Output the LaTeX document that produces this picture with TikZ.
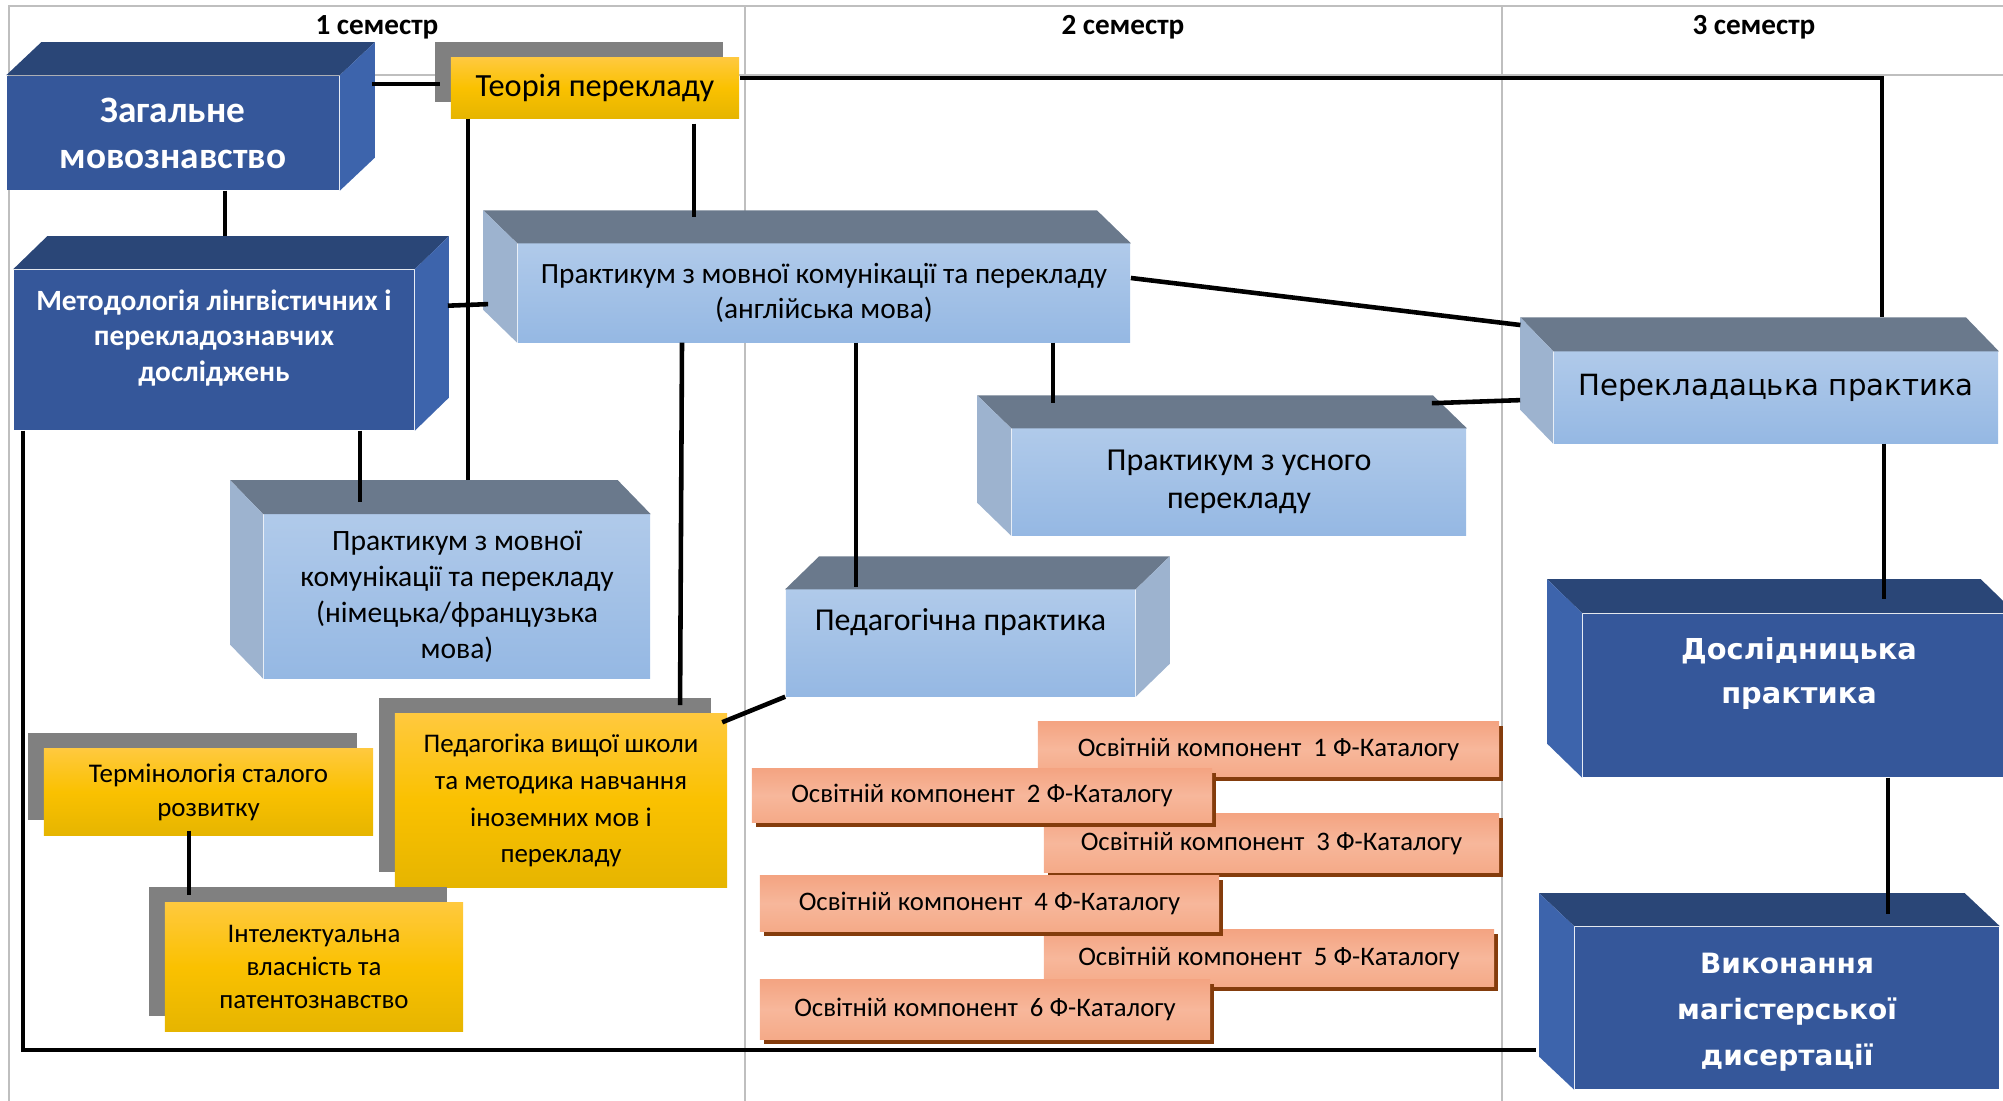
\documentclass[tikz,border=0pt]{standalone}
\usepackage{fontspec}
\setmainfont{Carlito}
\newfontfamily\dejavu{DejaVu Sans}
\usetikzlibrary{calc,shadows}
\definecolor{navyF}{HTML}{35579A}
\definecolor{navyT}{HTML}{2A4677}
\definecolor{navyS}{HTML}{3D64AC}
\definecolor{skyT}{HTML}{B0CAEA}
\definecolor{skyB}{HTML}{95B8E3}
\definecolor{skyTop}{HTML}{6A798C}
\definecolor{skySide}{HTML}{9DB3CF}
\definecolor{goldT}{HTML}{FFC93E}
\definecolor{goldM}{HTML}{FAC100}
\definecolor{goldB}{HTML}{E6B500}
\definecolor{shadeG}{HTML}{808080}
\definecolor{salT}{HTML}{F4A482}
\definecolor{salM}{HTML}{F7B79B}
\definecolor{salB}{HTML}{F5AA88}
\definecolor{brownS}{HTML}{843C0C}
\definecolor{gridG}{HTML}{BFBFBF}
\newcommand\fsz[2]{\fontsize{#1}{#2}\selectfont}
\newcommand\cubeL[4]{%
\fill[#3] (#1.north west) -- ++(#2) -- ([shift={(#2)}]#1.north east) -- (#1.north east) -- cycle;
\fill[#4] (#1.north west) -- ++(#2) -- ([shift={(#2)}]#1.south west) -- (#1.south west) -- cycle;}
\newcommand\cubeR[4]{%
\fill[#3] (#1.north west) -- ++(#2) -- ([shift={(#2)}]#1.north east) -- (#1.north east) -- cycle;
\fill[#4] (#1.north east) -- ++(#2) -- ([shift={(#2)}]#1.south east) -- (#1.south east) -- cycle;}

\begin{document}
\begin{tikzpicture}[x=0.01cm,y=-0.01cm,
sz/.style 2 args={minimum width=#1*0.1mm,minimum height=#2*0.1mm,inner sep=0pt},
link/.style={line width=1.3pt},
gridline/.style={gridG,line width=0.6pt},
sem/.style={font=\bfseries\fsz{8.3}{10}},
navy/.style={fill=navyF,text=white,align=center},
sky/.style={top color=skyT,bottom color=skyB,align=center},
gold/.style={top color=goldT,bottom color=goldB,middle color=goldM,align=center,
general shadow={fill=shadeG,shadow xshift=-1.6mm,shadow yshift=1.55mm}},
okbox/.style={top color=salT,bottom color=salB,middle color=salM,
general shadow={fill=brownS,shadow xshift=0.4mm,shadow yshift=-0.45mm},
font=\fsz{7.6}{9}},
wlab/.style={text=white,align=center}]
\useasboundingbox (0,0) rectangle (2003,1101);
\clip (0,0) rectangle (2003,1101);
\draw[gridline] (9,1110) -- (9,6) -- (2010,6) (9,75) -- (2010,75)
(745,6) -- (745,1110) (1502,6) -- (1502,1110);
\node[sem] (sem1) at (377,27) {1 семестр};
\node[sem] (sem2) at (1123,27) {2 семестр};
\node[sem] (sem3) at (1754,27) {3 семестр};

\node[navy,sz={332}{114},font=\bfseries\fsz{10.6}{13.1}] (zag) at (173,133) {Загальне\\мовознавство};
\cubeR{zag}{35,-33}{navyT}{navyS}
\node[gold,sz={288}{60},font=\fsz{9.2}{10}] (teor) at (595,88) {Теорія перекладу};
\node[navy,sz={400}{160},label={[wlab,yshift=1.2mm,font=\bfseries\fsz{8.36}{10.2}]center:{Методологія лінгвістичних і\\перекладознавчих\\досліджень}}] (metod) at (214,350) {};
\cubeR{metod}{34,-33}{navyT}{navyS}
\node[sky,sz={612}{98},font=\fsz{8.35}{10}] (praktEn) at (824,293) {Практикум з мовної комунікації та перекладу\\(англійська мова)};
\cubeL{praktEn}{-34,-33}{skyTop}{skySide}
\node[sky,sz={444}{91},label={[yshift=1mm,font=\dejavu\fsz{8.3}{10}]center:Перекладацька практика}] (perekl) at (1776,397.5) {};
\cubeL{perekl}{-33,-34}{skyTop}{skySide}
\node[sky,sz={454}{106},font=\fsz{9.1}{10.8}] (usn) at (1239,482) {Практикум з усного\\перекладу};
\cubeL{usn}{-34,-33}{skyTop}{skySide}
\node[sky,sz={386}{163},font=\fsz{8.4}{10.2}] (nim) at (457,596.5) {Практикум з мовної\\комунікації та перекладу\\(німецька/французька\\мова)};
\cubeL{nim}{-33,-34}{skyTop}{skySide}
\node[sky,sz={349}{106},label={[yshift=2.1mm,font=\fsz{9.07}{10}]center:Педагогічна практика}] (pedpr) at (960.5,643) {};
\cubeR{pedpr}{34,-33}{skyTop}{skySide}
\node[gold,sz={332}{173},font=\fsz{7.65}{10.5}] (pedvsh) at (561,800.5) {Педагогіка вищої школи\\та методика навчання\\іноземних мов і\\перекладу};
\node[gold,sz={329}{86},font=\fsz{7.67}{9.7}] (term) at (208.5,792) {Термінологія сталого\\розвитку};
\node[gold,sz={298}{128},font=\fsz{7.64}{9.4}] (int) at (314,967) {Інтелектуальна\\власність та\\патентознавство};
\node[navy,sz={432}{163},label={[wlab,yshift=2.2mm,font=\dejavu\bfseries\fsz{8.2}{12.5}]center:{Дослідницька\\практика}}] (dosl) at (1799,695.5) {};
\cubeL{dosl}{-35,-34}{navyT}{navyS}
\node[navy,sz={424}{162},label={[wlab,yshift=-0.4mm,font=\dejavu\bfseries\fsz{7.95}{13}]center:{Виконання\\магістерської\\дисертації}}] (vyk) at (1787,1008) {};
\cubeL{vyk}{-35,-33}{navyT}{navyS}
\foreach \n/\cx/\cy/\w/\h in {1/1268.5/749/461/54,3/1271.5/843/455/58,5/1269/958/450/56,
2/982/795.5/460/53,4/989.5/903.5/459/55,6/985/1009.5/450/59}
\node[okbox,sz={\w}{\h}] (ok\n) at (\cx,\cy) {Освітній компонент~ \n~Ф-Каталогу};

\draw[link,shorten <=3.2mm,shorten >=1mm] (zag.east |- 0,84) -- (teor.west |- 0,84);
\draw[link,shorten >=3.4mm] (teor.east |- 0,78) -| (perekl.north -| 1882,0);
\draw[link,shorten <=0.5mm,shorten >=2.6mm] (teor.south -| 694,0) -- (praktEn.north -| 694,0);
\draw[link,shorten >=3.3mm] (zag.south -| 225,0) -- (metod.north -| 225,0);
\draw[link,shorten <=3.3mm,shorten >=2.9mm] (metod.east |- 0,307) -- (praktEn.west |- 0,303);
\draw[link,shorten >=3.4mm] (teor.south -| 468,0) -- (nim.north -| 468,0);
\draw[link,shorten >=1.2mm] (metod.south -| 360,0) -- (nim.north -| 360,0);
\draw[link,shorten >=3.8mm] (metod.south -| 23,0) |- (vyk.west |- 0,1050);
\draw[link,shorten >=0.8mm] (praktEn.south -| 682,0) -- (pedvsh.north -| 680,0);
\draw[link,shorten >=0.2mm] (praktEn.south -| 856,0) -- (pedpr.north -| 856,0);
\draw[link,shorten >=2.5mm] (praktEn.south -| 1053,0) -- (usn.north -| 1053,0);
\draw[link,shorten >=3.3mm] (praktEn.east |- 0,278) -- (perekl.north west |- 0,329);
\draw[link,shorten <=-3.5mm,shorten >=3.3mm] (usn.north east |- 0,402) -- (perekl.west |- 0,399);
\draw[link,shorten <=-0.6mm] (pedvsh.east |- 0,720) -- (pedpr.south west);
\draw[link,shorten <=-0.5mm,shorten >=0.7mm] (term.south -| 189,0) -- (int.north -| 189,0);
\draw[link,shorten >=1.4mm] (perekl.south -| 1884,0) -- (dosl.north -| 1884,0);
\draw[link,shorten >=1.2mm] (dosl.south -| 1888,0) -- (vyk.north -| 1888,0);
\end{tikzpicture}
\end{document}
